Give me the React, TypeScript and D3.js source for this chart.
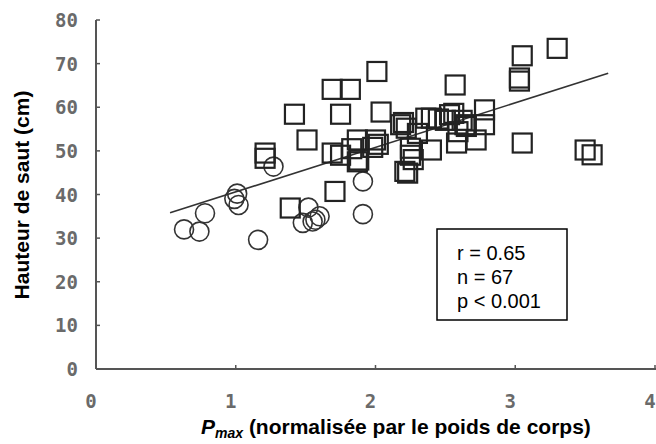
import React from "react";
import * as d3 from "d3";

const circleX = [0.63, 0.74, 0.78, 1.01, 1.02, 0.99, 1.16, 1.27, 1.48, 1.55, 1.52, 1.60, 1.57, 1.91, 1.91];
const circleY = [32.0, 31.5, 35.7, 40.2, 37.6, 39.0, 29.6, 46.4, 33.5, 33.8, 37.0, 35.0, 34.2, 43.0, 35.5];

const squareX = [1.21, 1.21, 1.39, 1.42, 1.51, 1.69, 1.82, 1.75, 1.71, 1.69, 1.75, 1.87, 1.87, 1.88, 2.01, 2.04, 1.98, 2.0, 2.18, 2.2, 2.21, 2.23, 2.25, 2.25, 2.27, 2.4, 2.36, 2.4, 2.53, 2.56, 2.57, 2.58, 2.59, 2.64, 2.65, 2.72, 2.78, 2.78, 3.03, 3.03, 3.05, 3.05, 3.3, 3.5, 3.55, 2.45, 2.3, 2.22, 1.83, 2.5, 2.62, 2.02];
const squareY = [49.5, 48.3, 36.9, 58.4, 52.5, 64.1, 64.1, 58.4, 40.7, 49.5, 49.0, 52.5, 47.5, 47.9, 68.2, 58.9, 50.8, 52.5, 56.0, 56.5, 45.3, 44.9, 49.0, 50.6, 48.0, 57.5, 57.5, 50.2, 58.3, 58.6, 65.1, 51.8, 54.4, 56.0, 55.6, 52.5, 59.4, 56.0, 66.7, 66.0, 71.8, 51.8, 73.5, 50.2, 49.1, 57.3, 54.0, 55.2, 50.5, 57.0, 57.0, 51.5];

const fitX = [0.53, 3.665];
const fitY = [35.8, 67.8];

const xTicks = [0, 1, 2, 3, 4];
const yTicks = [0, 10, 20, 30, 40, 50, 60, 70, 80];
const statsLines = ["r = 0.65", "n = 67", "p < 0.001"];

export default function App() {
  const x = d3.scaleLinear().domain([0, 4]).range([96, 655]);
  const y = d3.scaleLinear().domain([0, 80]).range([369, 20]);
  const line = d3.line<number>().x((d, i) => x(fitX[i])).y((d, i) => y(fitY[i]));
  const half = 9.5;
  const tickFont = "DejaVu Sans Mono, monospace";
  return (
    <svg width={656} height={444} style={{ position: "absolute", left: 0, top: 0, background: "#fff" }}
      fontFamily="Liberation Sans, Arial, sans-serif">
      {/* axes */}
      <line x1={x(0)} x2={x(0)} y1={y(80)} y2={y(0)} stroke="#555" strokeWidth={2} />
      <line x1={x(0)} x2={656} y1={y(0)} y2={y(0)} stroke="#555" strokeWidth={2} />
      {yTicks.map((t) => (
        <g key={"y" + t}>
          <line x1={x(0)} x2={x(0) + 4} y1={y(t)} y2={y(t)} stroke="#555" strokeWidth={1.5} />
          <text x={78} y={y(t) + 7} textAnchor="end" fontSize={19} fill="#6a6a6a" fontWeight="bold"
            fontFamily={tickFont}>{t}</text>
        </g>
      ))}
      {xTicks.map((t) => (
        <g key={"x" + t}>
          {t > 0 && <line x1={x(t)} x2={x(t)} y1={y(0)} y2={y(0) - 4} stroke="#555" strokeWidth={1.5} />}
          <text x={x(t) - 5} y={408} textAnchor="middle" fontSize={19} fill="#6a6a6a" fontWeight="bold"
            fontFamily={tickFont}>{t}</text>
        </g>
      ))}
      {/* regression line */}
      <path d={line(fitX) || ""} fill="none" stroke="#333" strokeWidth={1.6} />
      {/* circles */}
      {circleX.map((v, i) => (
        <circle key={"c" + i} cx={x(v)} cy={y(circleY[i])} r={9.5} fill="none" stroke="#333" strokeWidth={1.6} />
      ))}
      {/* squares */}
      {squareX.map((v, i) => (
        <rect key={"s" + i} x={x(v) - half} y={y(squareY[i]) - half} width={half * 2} height={half * 2}
          fill="none" stroke="#222" strokeWidth={2.2} />
      ))}
      {/* stats box */}
      <rect x={437} y={229} width={130} height={91} fill="#fff" stroke="#000" strokeWidth={1.5} />
      {statsLines.map((s, i) => (
        <text key={"st" + i} x={457} y={260 + i * 24} fontSize={20} fill="#000">{s}</text>
      ))}
      {/* axis titles */}
      <text transform="translate(29,195) rotate(-90)" textAnchor="middle" fontSize={21} fontWeight="bold" fill="#000">
        Hauteur de saut (cm)
      </text>
      <text x={201} y={434} fontSize={21} fontWeight="bold" fill="#000">
        <tspan fontStyle="italic">P</tspan>
        <tspan fontStyle="italic" fontSize={14} dy={4}>max</tspan>
        <tspan dy={-4}> (normalisée par le poids de corps)</tspan>
      </text>
    </svg>
  );
}
